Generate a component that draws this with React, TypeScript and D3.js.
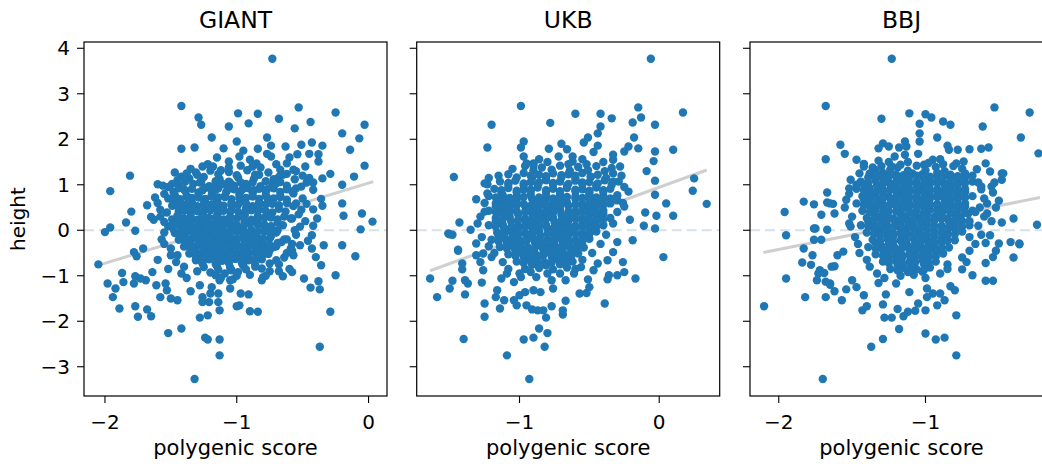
import { useEffect, useRef } from "react";
import * as d3 from "d3";

// panel titles, ticks and axis ranges
const titles = ["GIANT", "UKB", "BBJ"];
const xTicks = [[-2, -1, 0], [-1, 0], [-2, -1]];
const yTicks = [-3, -2, -1, 0, 1, 2, 3, 4];
const xDomains = [[-2.159, 0.14], [-1.736, 0.433], [-2.196, -0.131]];
const yDomain = [-3.643, 4.138];

// fitted regression lines, endpoints [score, height]
const fitGiant = [[-2.04, -0.76], [0.036, 1.07]];
const fitUkb = [[-1.64, -0.89], [0.34, 1.325]];
const fitBbj = [[-2.105, -0.49], [-0.22, 0.72]];

// [polygenic score, height]
const giantPts = [
  [-1.2, 1.31], [-1.06, 1.28], [-0.92, 1.32], [-0.76, 1.27],
  [-1.36, 1.14], [-1.25, 1.17], [-1.13, 1.12], [-0.99, 1.16], [-0.87, 1.13], [-0.68, 1.17], [-0.56, 1.12],
  [-1.44, 0.99], [-1.33, 1.02], [-1.21, 0.97], [-1.1, 1.01], [-1.02, 0.98], [-0.93, 1.02], [-0.82, 0.97], [-0.73, 1.0], [-0.62, 0.98],
  [-1.48, 0.84], [-1.39, 0.86], [-1.29, 0.83], [-1.19, 0.87], [-1.08, 0.84], [-0.97, 0.86], [-0.88, 0.83], [-0.78, 0.87], [-0.67, 0.84], [-0.58, 0.86],
  [-1.52, 0.7], [-1.43, 0.68], [-1.34, 0.71], [-1.24, 0.69], [-1.14, 0.72], [-1.04, 0.68], [-0.93, 0.71], [-0.83, 0.69], [-0.72, 0.7], [-0.62, 0.67],
  [-1.49, 0.54], [-1.39, 0.56], [-1.3, 0.53], [-1.19, 0.57], [-1.1, 0.54], [-0.99, 0.56], [-0.88, 0.53], [-0.78, 0.57], [-0.68, 0.55], [-0.57, 0.53],
  [-1.53, 0.39], [-1.44, 0.41], [-1.35, 0.38], [-1.25, 0.42], [-1.14, 0.39], [-1.05, 0.41], [-0.94, 0.38], [-0.84, 0.42], [-0.73, 0.39], [-0.63, 0.41],
  [-1.49, 0.24], [-1.4, 0.26], [-1.3, 0.23], [-1.21, 0.27], [-1.1, 0.24], [-1.0, 0.26], [-0.89, 0.23], [-0.79, 0.27], [-0.69, 0.24], [-0.59, 0.26],
  [-1.52, 0.09], [-1.43, 0.11], [-1.34, 0.08], [-1.25, 0.12], [-1.15, 0.09], [-1.05, 0.11], [-0.95, 0.08], [-0.84, 0.12], [-0.74, 0.09], [-0.65, 0.11],
  [-1.47, -0.06], [-1.38, -0.04], [-1.29, -0.07], [-1.2, -0.03], [-1.1, -0.06], [-1.0, -0.04], [-0.9, -0.07], [-0.79, -0.03], [-0.7, -0.05],
  [-1.44, -0.21], [-1.34, -0.19], [-1.24, -0.22], [-1.15, -0.18], [-1.05, -0.21], [-0.95, -0.19], [-0.85, -0.22], [-0.75, -0.18], [-0.64, -0.2],
  [-1.4, -0.36], [-1.3, -0.34], [-1.2, -0.37], [-1.1, -0.33], [-1.0, -0.36], [-0.9, -0.34], [-0.8, -0.37], [-0.7, -0.35],
  [-1.36, -0.51], [-1.26, -0.49], [-1.16, -0.52], [-1.06, -0.48], [-0.96, -0.51], [-0.86, -0.49], [-0.76, -0.52],
  [-1.31, -0.66], [-1.21, -0.64], [-1.11, -0.67], [-1.01, -0.63], [-0.91, -0.66], [-0.81, -0.64],
  [-1.25, -0.81], [-1.15, -0.79], [-1.05, -0.82], [-0.95, -0.78], [-0.86, -0.8],
  [-1.2, -0.93], [-1.09, -0.95], [-0.99, -0.92],
  [-0.73, 3.77], [-1.42, 2.73], [-1.29, 2.48], [-1.27, 2.32], [-1.19, 2.04], [-1.42, 1.79], [-1.32, 1.82], [-0.99, 2.57],
  [-0.84, 2.56], [-0.91, 2.35], [-1.06, 2.28], [-1.0, 1.95], [-0.68, 2.45], [-0.53, 2.7], [-0.56, 2.24], [-0.44, 2.38],
  [-0.25, 2.59], [-0.2, 2.13], [-0.03, 2.32], [-0.07, 2.02], [-0.14, 1.77], [-0.03, 1.42], [-0.11, 1.18], [-0.29, 1.24],
  [-0.35, 1.14], [-0.35, 1.86], [-0.43, 1.93], [-0.51, 1.88], [-0.38, 1.67], [-0.38, 1.51], [-0.45, 1.68], [-0.54, 1.67],
  [-0.63, 1.84], [-0.77, 2.04], [-0.74, 1.86], [-0.84, 1.79], [-0.77, 1.68], [-0.74, 1.62], [-0.98, 1.62], [-0.9, 1.55],
  [-0.85, 1.47], [-1.06, 1.51], [-1.06, 1.38], [-1.26, 1.4], [-1.31, 1.27], [-1.47, 1.27], [-1.42, 1.18], [-1.81, 1.2],
  [-1.96, 0.86], [-1.6, 1.01], [-1.56, 0.98], [-1.49, 1.02], [-1.8, 0.41], [-1.84, 0.17], [-1.96, 0.06], [-1.65, 0.29],
  [-1.63, 0.23], [-1.55, 0.18], [-1.77, -0.01], [-2.0, -0.04], [-0.2, 1.0], [-0.2, 0.59], [-0.19, 0.32], [-0.05, 0.37],
  [0.03, 0.19], [-0.06, 0.02], [-0.42, 0.89], [-0.42, 1.05], [-0.36, 0.69], [-0.35, 0.54], [-0.42, 0.46], [-0.51, 0.45],
  [-0.39, 0.26], [-0.42, 0.1], [-0.58, 0.26], [-0.52, 0.08], [-0.55, 0.59], [-0.51, 0.96], [-0.57, 0.81], [-0.48, 1.4],
  [-0.57, 1.33], [-0.62, 1.47], [-0.67, 1.33],
  [-1.35, 1.35], [-1.22, 1.45], [-1.15, 1.6], [-0.95, 1.75], [-1.1, 1.8], [-0.6, 1.6], [-0.55, 1.3], [-0.45, 1.15],
  [-0.88, 1.4], [-0.7, 1.45],
  [-2.05, -0.75], [-1.98, -1.17], [-1.92, -1.28], [-1.94, -1.47], [-1.89, -1.72], [-1.87, -0.94], [-1.86, -1.14], [-1.78, -1.17],
  [-1.77, -1.01], [-1.77, -1.67], [-1.75, -1.9], [-1.68, -1.74], [-1.65, -1.89], [-1.69, -1.1], [-1.73, -1.06], [-1.71, -0.4],
  [-1.78, -0.48], [-1.76, -0.57], [-1.64, -0.92], [-1.61, -1.21], [-1.58, -1.47], [-1.54, -1.17], [-1.53, -1.32], [-1.5, -1.5],
  [-1.45, -1.54], [-1.52, -2.26], [-1.42, -2.16], [-1.35, -1.34], [-1.28, -1.92], [-1.22, -1.87], [-1.24, -2.36], [-1.22, -2.4],
  [-1.13, -2.4], [-1.13, -2.75], [-1.32, -3.27], [-1.13, -1.76], [-1.14, -1.58], [-1.21, -1.58], [-1.26, -1.58], [-1.26, -1.47],
  [-1.2, -1.39], [-1.28, -1.21], [-1.19, -1.25], [-1.13, -1.1], [-1.16, -0.99], [-1.14, -1.39], [-1.05, -1.1], [-1.03, -1.08],
  [-1.05, -1.28], [-0.97, -1.39], [-1.0, -1.67], [-0.98, -1.65], [-0.91, -1.41], [-0.9, -1.78], [-0.84, -1.79], [-0.81, -1.1],
  [-0.8, -1.03], [-0.81, -0.84], [-0.65, -1.01], [-0.58, -0.92], [-0.49, -1.06], [-0.44, -1.26], [-0.38, -1.12], [-0.37, -1.3],
  [-0.29, -1.79], [-0.37, -2.56], [-0.25, -0.99], [-0.2, -0.33], [-0.1, -0.57], [-0.36, -0.77], [-0.4, -0.59], [-0.43, -0.4],
  [-0.46, -0.23], [-0.43, -0.11], [-0.34, -0.33], [-0.52, -0.33], [-0.59, -0.4], [-0.57, -0.55], [-0.66, -0.26], [-0.72, -0.37],
  [-0.7, -0.66], [-0.75, -0.73], [-0.62, -0.2], [-0.58, -0.45], [-0.64, -0.6], [-0.55, -0.1], [-0.68, -0.75], [-0.6, -0.85],
  [-0.75, -0.9], [-1.55, -0.3], [-1.5, -0.55], [-1.46, -0.7], [-1.52, -0.85], [-1.42, -0.95], [-1.38, -1.05], [-1.6, -0.65],
  [-1.57, -0.2], [-1.68, 0.55], [-1.62, 0.72], [-1.58, 0.45],
];

// points packed in the dense middle of each cloud
const giantDense = [
  [-1.3, 1.22], [-1.14, 1.23], [-1.0, 1.21], [-0.83, 1.22], [-0.62, 1.24],
  [-1.39, 1.07], [-1.27, 1.06], [-1.16, 1.08], [-1.06, 1.07], [-0.97, 1.05], [-0.78, 1.08], [-0.67, 1.06],
  [-1.44, 0.92], [-1.34, 0.91], [-1.24, 0.93], [-1.14, 0.92], [-1.02, 0.9], [-0.92, 0.93], [-0.83, 0.91], [-0.72, 0.92], [-0.62, 0.9],
  [-1.47, 0.77], [-1.38, 0.76], [-1.29, 0.78], [-1.19, 0.77], [-1.09, 0.75], [-0.98, 0.78], [-0.88, 0.76], [-0.78, 0.77], [-0.67, 0.76],
  [-1.48, 0.62], [-1.34, 0.61], [-1.24, 0.63], [-1.15, 0.62], [-1.04, 0.6], [-0.94, 0.63], [-0.83, 0.61], [-0.73, 0.62], [-0.62, 0.6],
  [-1.44, 0.47], [-1.35, 0.46], [-1.24, 0.48], [-1.15, 0.47], [-1.04, 0.45], [-0.93, 0.48], [-0.83, 0.46], [-0.68, 0.47],
  [-1.45, 0.32], [-1.35, 0.31], [-1.26, 0.33], [-1.15, 0.32], [-1.05, 0.3], [-0.94, 0.33], [-0.84, 0.31], [-0.74, 0.32], [-0.64, 0.3],
  [-1.47, 0.17], [-1.35, 0.16], [-1.25, 0.18], [-1.15, 0.17], [-1.05, 0.15], [-0.94, 0.18], [-0.84, 0.16], [-0.69, 0.17],
  [-1.48, 0.02], [-1.38, 0.01], [-1.29, 0.03], [-1.2, 0.02], [-1.1, 0.0], [-1.0, 0.03], [-0.89, 0.01], [-0.79, 0.02], [-0.69, 0.0],
  [-1.42, -0.13], [-1.33, -0.14], [-1.24, -0.12], [-1.15, -0.13], [-1.05, -0.15], [-0.95, -0.12], [-0.85, -0.14], [-0.74, -0.13],
  [-1.39, -0.28], [-1.29, -0.29], [-1.19, -0.27], [-1.1, -0.28], [-1.0, -0.3], [-0.9, -0.27], [-0.8, -0.29], [-0.69, -0.28],
  [-1.35, -0.43], [-1.25, -0.44], [-1.15, -0.42], [-1.05, -0.43], [-0.95, -0.45], [-0.85, -0.42], [-0.75, -0.44],
  [-1.31, -0.58], [-1.21, -0.59], [-1.11, -0.57], [-1.01, -0.58], [-0.91, -0.6], [-0.81, -0.57],
  [-1.26, -0.73], [-1.16, -0.74], [-1.06, -0.72], [-0.96, -0.73], [-0.86, -0.75],
  [-1.14, -0.87], [-1.04, -0.88], [-0.93, -0.86],
  [-1.28, 1.05], [-1.16, 1.03], [-1.05, 1.04], [-0.88, 1.05], [-0.7, 1.03],
  [-1.4, 0.9], [-1.26, 0.88], [-1.16, 0.89], [-1.06, 0.91], [-0.96, 0.89], [-0.87, 0.88], [-0.77, 0.9],
  [-1.38, 0.73], [-1.29, 0.72], [-1.19, 0.74], [-1.09, 0.73], [-0.98, 0.71], [-0.88, 0.74], [-0.77, 0.72], [-0.67, 0.73],
  [-1.44, 0.58], [-1.34, 0.57], [-1.25, 0.59], [-1.14, 0.58], [-1.04, 0.56], [-0.93, 0.59], [-0.83, 0.57], [-0.73, 0.58],
  [-1.4, 0.43], [-1.3, 0.42], [-1.2, 0.44], [-1.1, 0.43], [-0.99, 0.41], [-0.89, 0.44], [-0.78, 0.42],
  [-1.44, 0.28], [-1.35, 0.27], [-1.25, 0.29], [-1.16, 0.28], [-1.05, 0.26], [-0.95, 0.29], [-0.84, 0.27], [-0.74, 0.28],
  [-1.38, 0.13], [-1.29, 0.12], [-1.2, 0.14], [-1.1, 0.13], [-1.0, 0.11], [-0.9, 0.14], [-0.79, 0.12],
  [-1.42, -0.02], [-1.33, -0.03], [-1.24, -0.01], [-1.15, -0.02], [-1.05, -0.04], [-0.95, -0.01], [-0.84, -0.03], [-0.75, -0.02],
  [-1.39, -0.17], [-1.29, -0.18], [-1.2, -0.16], [-1.1, -0.17], [-1.0, -0.19], [-0.9, -0.16], [-0.8, -0.18],
  [-1.35, -0.32], [-1.25, -0.33], [-1.15, -0.31], [-1.05, -0.32], [-0.95, -0.34], [-0.85, -0.31], [-0.75, -0.33],
  [-1.31, -0.47], [-1.21, -0.48], [-1.11, -0.46], [-1.01, -0.47], [-0.91, -0.49], [-0.81, -0.46],
  [-1.26, -0.62], [-1.16, -0.63], [-1.06, -0.61], [-0.96, -0.62], [-0.86, -0.64],
  // ragged rim around the core
  [-1.38, 1.25], [-1.18, 1.4], [-1.12, 1.32], [-0.97, 1.42], [-0.82, 1.38], [-0.65, 1.22], [-0.5, 1.2], [-0.47, 1.05],
  [-0.55, 0.92], [-0.5, 0.7], [-0.47, 0.58], [-0.53, 0.35], [-0.48, 0.2], [-0.56, 0.0], [-0.58, -0.3], [-0.62, -0.5],
  [-0.68, -0.9], [-0.78, -1.0], [-0.9, -0.98], [-1.3, -0.9], [-1.4, -0.8], [-1.45, -0.55], [-1.5, -0.4], [-1.55, -0.05],
  [-1.58, 0.3], [-1.6, 0.6], [-1.55, 0.8], [-1.52, 0.95], [-1.45, 1.1], [-1.0, -1.0], [-1.12, -1.05], [-0.72, 1.12],
  [-0.86, 1.22],
];

const ukbPts = [
  [-0.96, 1.41], [-0.84, 1.38], [-0.71, 1.42], [-0.58, 1.39], [-0.45, 1.41], [-0.34, 1.37],
  [-1.08, 1.23], [-0.97, 1.26], [-0.86, 1.22], [-0.76, 1.25], [-0.65, 1.23], [-0.55, 1.26], [-0.44, 1.22], [-0.33, 1.25],
  [-1.14, 1.07], [-1.03, 1.09], [-0.92, 1.06], [-0.81, 1.1], [-0.71, 1.07], [-0.6, 1.09], [-0.5, 1.06], [-0.39, 1.1], [-0.29, 1.07],
  [-1.18, 0.91], [-1.08, 0.93], [-0.97, 0.9], [-0.87, 0.94], [-0.76, 0.91], [-0.66, 0.93], [-0.55, 0.9], [-0.45, 0.94], [-0.35, 0.91],
  [-1.22, 0.75], [-1.12, 0.77], [-1.02, 0.74], [-0.92, 0.78], [-0.81, 0.75], [-0.71, 0.77], [-0.6, 0.74], [-0.5, 0.78], [-0.4, 0.75], [-0.3, 0.77],
  [-1.17, 0.59], [-1.07, 0.61], [-0.97, 0.58], [-0.86, 0.62], [-0.76, 0.59], [-0.66, 0.61], [-0.55, 0.58], [-0.45, 0.62], [-0.35, 0.59],
  [-1.22, 0.43], [-1.12, 0.45], [-1.02, 0.42], [-0.91, 0.46], [-0.81, 0.43], [-0.71, 0.45], [-0.6, 0.42], [-0.5, 0.46], [-0.4, 0.43],
  [-1.17, 0.27], [-1.07, 0.29], [-0.96, 0.26], [-0.86, 0.3], [-0.76, 0.27], [-0.65, 0.29], [-0.55, 0.26], [-0.45, 0.3], [-0.35, 0.27],
  [-1.22, 0.11], [-1.12, 0.13], [-1.01, 0.1], [-0.91, 0.14], [-0.81, 0.11], [-0.7, 0.13], [-0.6, 0.1], [-0.5, 0.14], [-0.4, 0.11],
  [-1.16, -0.05], [-1.06, -0.03], [-0.96, -0.06], [-0.86, -0.02], [-0.75, -0.05], [-0.65, -0.03], [-0.55, -0.06], [-0.45, -0.03],
  [-1.2, -0.21], [-1.1, -0.19], [-1.0, -0.22], [-0.9, -0.18], [-0.8, -0.21], [-0.7, -0.19], [-0.6, -0.22], [-0.5, -0.19],
  [-1.14, -0.37], [-1.04, -0.35], [-0.94, -0.38], [-0.84, -0.34], [-0.74, -0.37], [-0.64, -0.35], [-0.54, -0.38],
  [-1.08, -0.53], [-0.98, -0.51], [-0.88, -0.54], [-0.78, -0.5], [-0.68, -0.53], [-0.58, -0.51],
  [-1.02, -0.69], [-0.92, -0.67], [-0.82, -0.7], [-0.72, -0.66], [-0.62, -0.69],
  [-0.96, -0.85], [-0.86, -0.83], [-0.76, -0.86], [-0.66, -0.82],
  [-0.06, 3.77], [-0.99, 2.73], [-1.2, 2.32], [-1.23, 1.82], [-1.47, 1.17], [-0.78, 2.36], [-0.6, 2.56], [-0.42, 2.56],
  [-0.34, 2.46], [-0.42, 2.28], [-0.44, 2.13], [-0.51, 2.04], [-0.54, 1.93], [-0.44, 1.86], [-0.15, 2.7], [-0.13, 2.48],
  [-0.19, 2.37], [-0.03, 2.32], [-0.18, 2.04], [0.17, 2.59], [0.1, 1.77], [-0.03, 1.73], [-0.04, 1.52], [-0.09, 1.3],
  [-0.03, 1.09], [-0.03, 0.78], [0.25, 1.14], [0.24, 0.87], [0.34, 0.58], [0.05, 0.59], [0.1, 0.32], [-0.02, 0.32],
  [-0.03, 0.04], [-0.1, 0.39], [-0.11, 0.1], [-0.15, 1.8], [-0.22, 1.84], [-0.25, 1.73], [-0.28, 1.4], [-0.33, 1.55],
  [-0.33, 1.07], [-0.22, 0.85], [-0.25, 0.52], [-0.21, 0.23], [-0.97, 1.95], [-0.99, 1.82], [-0.97, 1.62], [-0.95, 1.47],
  [-0.79, 1.79], [-0.7, 1.9], [-0.66, 1.78], [-0.86, 1.56], [-0.9, 1.47], [-0.62, 1.62], [-0.62, 1.51], [-0.55, 1.56],
  [-0.33, 1.66], [-1.23, 1.01], [-1.23, 0.81], [-1.31, 0.68], [-1.14, 0.68], [-1.25, 0.41], [-1.43, 0.17], [-1.35, 0.01],
  [-1.51, -0.07], [-1.48, -0.1], [-0.72, 1.62], [-0.47, 1.72], [-1.25, 1.03], [-1.44, -0.43],
  [-1.64, -1.06], [-1.59, -1.47], [-1.5, -1.28], [-1.48, -1.11], [-1.44, -0.45], [-1.5, -0.09], [-1.41, -0.73], [-1.41, -0.86],
  [-1.39, -1.1], [-1.37, -1.17], [-1.39, -1.41], [-1.4, -2.39], [-1.31, -0.29], [-1.31, -0.55], [-1.26, -0.51], [-1.28, -0.7],
  [-1.26, -0.88], [-1.27, -1.15], [-1.25, -1.61], [-1.25, -1.9], [-1.2, -0.59], [-1.17, -1.47], [-1.14, -1.72], [-1.11, -1.54],
  [-1.16, -1.32], [-1.13, -1.06], [-1.09, -2.75], [-0.93, -3.27], [-0.97, -2.4], [-0.9, -2.36], [-0.86, -2.16], [-0.8, -2.26],
  [-0.82, -2.56], [-0.95, -1.65], [-0.91, -1.74], [-0.87, -1.76], [-0.83, -1.76], [-0.81, -1.92], [-0.77, -1.67], [-1.02, -1.65],
  [-1.04, -1.54], [-1.0, -1.43], [-0.96, -1.36], [-0.9, -1.32], [-0.85, -1.36], [-0.76, -1.28], [-0.69, -1.85], [-0.69, -1.76],
  [-0.67, -1.55], [-0.57, -1.39], [-0.52, -1.38], [-0.5, -1.25], [-0.51, -1.08], [-0.39, -1.61], [-0.37, -1.08], [-0.36, -0.99],
  [-0.3, -0.99], [-0.25, -0.92], [-0.17, -1.06], [-0.26, -0.7], [0.03, -0.59], [-0.19, -0.22], [-0.3, -0.26], [-0.33, -0.48],
  [-0.37, -0.66], [-0.44, -0.73], [-0.47, -0.88], [-0.56, -0.81], [-0.61, -0.95], [-0.67, -1.1], [-0.71, -0.95], [-0.77, -1.1],
  [-0.8, -0.95], [-0.88, -1.03], [-0.92, -0.92], [-0.99, -1.03], [-1.04, -1.14], [-1.09, -0.95],
];

const ukbDense = [
  [-0.9, 1.32], [-0.77, 1.33], [-0.64, 1.31], [-0.51, 1.32], [-0.39, 1.3],
  [-1.02, 1.16], [-0.91, 1.15], [-0.81, 1.17], [-0.7, 1.16], [-0.6, 1.14], [-0.49, 1.17], [-0.38, 1.15],
  [-1.08, 1.0], [-0.97, 0.99], [-0.87, 1.01], [-0.76, 1.0], [-0.66, 0.98], [-0.55, 1.01], [-0.45, 0.99], [-0.34, 1.0],
  [-1.13, 0.84], [-1.02, 0.83], [-0.92, 0.85], [-0.81, 0.84], [-0.71, 0.82], [-0.6, 0.85], [-0.5, 0.83], [-0.4, 0.84],
  [-1.12, 0.68], [-1.02, 0.67], [-0.91, 0.69], [-0.81, 0.68], [-0.71, 0.66], [-0.6, 0.69], [-0.5, 0.67], [-0.4, 0.68], [-0.3, 0.66],
  [-1.17, 0.52], [-1.07, 0.51], [-0.96, 0.53], [-0.86, 0.52], [-0.76, 0.5], [-0.65, 0.53], [-0.55, 0.51], [-0.45, 0.52],
  [-1.12, 0.36], [-1.01, 0.35], [-0.91, 0.37], [-0.81, 0.36], [-0.7, 0.34], [-0.6, 0.37], [-0.5, 0.35], [-0.4, 0.36],
  [-1.17, 0.2], [-1.06, 0.19], [-0.96, 0.21], [-0.86, 0.2], [-0.75, 0.18], [-0.65, 0.21], [-0.55, 0.19], [-0.45, 0.2],
  [-1.11, 0.04], [-1.01, 0.03], [-0.91, 0.05], [-0.8, 0.04], [-0.7, 0.02], [-0.6, 0.05], [-0.5, 0.03],
  [-1.15, -0.12], [-1.05, -0.13], [-0.95, -0.11], [-0.85, -0.12], [-0.75, -0.14], [-0.65, -0.11], [-0.55, -0.13],
  [-1.09, -0.28], [-0.99, -0.29], [-0.89, -0.27], [-0.79, -0.28], [-0.69, -0.3], [-0.59, -0.27],
  [-1.03, -0.44], [-0.93, -0.45], [-0.83, -0.43], [-0.73, -0.44], [-0.63, -0.46],
  [-0.97, -0.6], [-0.87, -0.61], [-0.77, -0.59], [-0.67, -0.6],
  [-0.91, -0.76], [-0.81, -0.77], [-0.71, -0.75],
  [-0.92, 1.2], [-0.81, 1.19], [-0.7, 1.21], [-0.6, 1.2], [-0.49, 1.18],
  [-1.08, 1.04], [-0.97, 1.03], [-0.86, 1.05], [-0.76, 1.04], [-0.65, 1.02], [-0.55, 1.05], [-0.44, 1.03],
  [-1.13, 0.88], [-1.02, 0.87], [-0.92, 0.89], [-0.81, 0.88], [-0.71, 0.86], [-0.6, 0.89], [-0.5, 0.87], [-0.4, 0.88],
  [-1.17, 0.72], [-1.07, 0.71], [-0.97, 0.73], [-0.86, 0.72], [-0.76, 0.7], [-0.66, 0.73], [-0.55, 0.71], [-0.45, 0.72], [-0.35, 0.7],
  [-1.12, 0.56], [-1.02, 0.55], [-0.91, 0.57], [-0.81, 0.56], [-0.71, 0.54], [-0.6, 0.57], [-0.5, 0.55], [-0.4, 0.56],
  [-1.17, 0.4], [-1.07, 0.39], [-0.96, 0.41], [-0.86, 0.4], [-0.76, 0.38], [-0.65, 0.41], [-0.55, 0.39], [-0.45, 0.4],
  [-1.12, 0.24], [-1.01, 0.23], [-0.91, 0.25], [-0.81, 0.24], [-0.7, 0.22], [-0.6, 0.25], [-0.5, 0.23], [-0.4, 0.24],
  [-1.17, 0.08], [-1.06, 0.07], [-0.96, 0.09], [-0.86, 0.08], [-0.75, 0.06], [-0.65, 0.09], [-0.55, 0.07], [-0.45, 0.08],
  [-1.11, -0.08], [-1.01, -0.09], [-0.91, -0.07], [-0.8, -0.08], [-0.7, -0.1], [-0.6, -0.07], [-0.5, -0.09],
  [-1.15, -0.24], [-1.05, -0.25], [-0.95, -0.23], [-0.85, -0.24], [-0.75, -0.26], [-0.65, -0.23], [-0.55, -0.25],
  [-1.09, -0.4], [-0.99, -0.41], [-0.89, -0.39], [-0.79, -0.4], [-0.69, -0.42], [-0.59, -0.39],
  [-1.03, -0.56], [-0.93, -0.57], [-0.83, -0.55], [-0.73, -0.56], [-0.63, -0.58],
  [-0.97, -0.72], [-0.87, -0.73], [-0.77, -0.71], [-0.67, -0.72],
  // ragged rim around the core
  [-1.25, 0.6], [-1.28, 0.3], [-1.3, 0.15], [-1.27, -0.15], [-1.22, -0.35], [-1.18, -0.5], [-1.12, -0.7], [-1.08, -0.85],
  [-1.0, -0.95], [-0.6, -0.85], [-0.55, -0.65], [-0.48, -0.5], [-0.42, -0.3], [-0.38, -0.1], [-0.33, 0.15], [-0.3, 0.4],
  [-0.26, 0.6], [-0.25, 0.95], [-0.27, 1.2], [-0.4, 1.5], [-0.52, 1.45], [-0.65, 1.45], [-0.8, 1.5], [-0.9, 1.42],
  [-1.05, 1.35], [-1.15, 1.2], [-1.22, 1.15],
];

const bbjPts = [
  [-1.3, 1.41], [-1.19, 1.38], [-1.06, 1.42], [-0.93, 1.39], [-0.81, 1.41],
  [-1.38, 1.23], [-1.29, 1.26], [-1.2, 1.22], [-1.11, 1.25], [-1.02, 1.23], [-0.92, 1.26], [-0.83, 1.22], [-0.73, 1.25],
  [-1.44, 1.07], [-1.34, 1.09], [-1.25, 1.06], [-1.16, 1.1], [-1.06, 1.07], [-0.97, 1.09], [-0.88, 1.06], [-0.78, 1.1], [-0.68, 1.07],
  [-1.47, 0.91], [-1.38, 0.93], [-1.29, 0.9], [-1.2, 0.94], [-1.11, 0.91], [-1.02, 0.93], [-0.92, 0.9], [-0.83, 0.94], [-0.73, 0.91],
  [-1.43, 0.75], [-1.34, 0.77], [-1.25, 0.74], [-1.16, 0.78], [-1.06, 0.75], [-0.97, 0.77], [-0.88, 0.74], [-0.78, 0.78], [-0.68, 0.75],
  [-1.47, 0.59], [-1.38, 0.61], [-1.29, 0.58], [-1.2, 0.62], [-1.11, 0.59], [-1.02, 0.61], [-0.92, 0.58], [-0.83, 0.62], [-0.73, 0.59],
  [-1.43, 0.43], [-1.34, 0.45], [-1.25, 0.42], [-1.16, 0.46], [-1.06, 0.43], [-0.97, 0.45], [-0.88, 0.42], [-0.78, 0.46], [-0.68, 0.43],
  [-1.4, 0.27], [-1.31, 0.29], [-1.22, 0.26], [-1.13, 0.3], [-1.04, 0.27], [-0.94, 0.29], [-0.85, 0.26], [-0.76, 0.3],
  [-1.44, 0.11], [-1.35, 0.13], [-1.26, 0.1], [-1.17, 0.14], [-1.08, 0.11], [-0.99, 0.13], [-0.89, 0.1], [-0.8, 0.14], [-0.7, 0.11],
  [-1.4, -0.05], [-1.31, -0.03], [-1.22, -0.06], [-1.13, -0.02], [-1.04, -0.05], [-0.94, -0.03], [-0.85, -0.06], [-0.75, -0.03],
  [-1.36, -0.21], [-1.26, -0.19], [-1.17, -0.22], [-1.08, -0.18], [-0.99, -0.21], [-0.89, -0.19], [-0.8, -0.22],
  [-1.39, -0.37], [-1.3, -0.35], [-1.21, -0.38], [-1.12, -0.34], [-1.03, -0.37], [-0.94, -0.35], [-0.84, -0.38],
  [-1.34, -0.53], [-1.25, -0.51], [-1.16, -0.54], [-1.07, -0.5], [-0.98, -0.53], [-0.88, -0.51],
  [-1.29, -0.69], [-1.2, -0.67], [-1.11, -0.7], [-1.02, -0.66], [-0.93, -0.69],
  [-1.24, -0.85], [-1.15, -0.83], [-1.06, -0.86], [-0.97, -0.82],
  [-1.17, -1.0], [-1.08, -0.98],
  [-1.23, 3.77], [-1.68, 2.73], [-1.3, 2.45], [-1.11, 2.57], [-1.0, 2.55], [-0.96, 2.48], [-1.04, 2.34], [-0.88, 2.39],
  [-0.83, 2.32], [-0.53, 2.7], [-0.29, 2.59], [-0.35, 2.04], [-0.23, 1.69], [-0.61, 2.28], [-1.04, 2.13], [-1.04, 1.95],
  [-0.92, 2.04], [-0.85, 1.86], [-0.84, 1.77], [-0.78, 1.77], [-0.7, 1.78], [-0.62, 1.79], [-0.57, 1.82], [-1.58, 1.88],
  [-1.55, 1.68], [-1.68, 1.56], [-1.47, 1.55], [-1.42, 1.46], [-1.32, 1.8], [-1.29, 1.91], [-1.25, 1.84], [-1.18, 1.82],
  [-1.14, 1.95], [-1.13, 1.84], [-1.21, 1.62], [-1.14, 1.66], [-1.05, 1.68], [-1.32, 1.53], [-1.38, 1.25], [-1.29, 1.25],
  [-1.23, 1.4], [-1.17, 1.44], [-1.09, 1.25], [-1.01, 1.44], [-0.95, 1.55], [-0.9, 1.56], [-0.79, 1.47], [-0.74, 1.51],
  [-0.65, 1.34], [-0.59, 1.47], [-0.56, 1.29], [-0.48, 1.25], [-0.48, 1.11], [-0.62, 0.96], [-0.55, 0.96], [-0.54, 0.83],
  [-0.58, 0.59], [-0.58, 0.37], [-0.48, 0.17], [-0.4, 0.26], [-0.24, 0.12], [-1.83, 0.63], [-1.76, 0.57], [-1.96, 0.4],
  [-1.67, 0.61], [-1.63, 0.58], [-1.67, 0.83], [-1.71, 0.34], [-1.62, 0.37], [-1.75, 0.04], [-1.67, 0.01], [-1.52, 0.92],
  [-1.51, 1.11], [-1.54, 0.67], [-1.47, 1.0], [-1.41, 0.81], [-0.47, 1.25], [-0.53, 1.05],
  [-2.1, -1.67], [-1.95, -1.06], [-1.95, -0.11], [-1.84, -0.71], [-1.83, -0.4], [-1.77, -0.55], [-1.74, -1.1], [-1.82, -1.47],
  [-1.7, -3.27], [-1.68, -1.47], [-1.72, -0.88], [-1.69, -0.94], [-1.65, -1.17], [-1.62, -1.34], [-1.62, -0.79], [-1.6, -0.55],
  [-1.57, -1.54], [-1.54, -1.3], [-1.5, -1.1], [-1.47, -1.25], [-1.43, -1.76], [-1.4, -1.67], [-1.42, -1.43], [-1.37, -2.56],
  [-1.29, -2.39], [-1.29, -1.63], [-1.28, -1.92], [-1.23, -1.92], [-1.18, -2.17], [-1.19, -1.73], [-1.15, -1.89], [-1.12, -1.79],
  [-1.07, -1.77], [-1.05, -1.61], [-1.0, -1.76], [-1.0, -2.27], [-0.93, -2.4], [-0.87, -2.36], [-0.79, -1.87], [-0.79, -2.75],
  [-0.99, -1.47], [-0.92, -1.65], [-0.87, -1.54], [-0.95, -1.39], [-0.9, -1.39], [-0.99, -1.28], [-0.83, -1.23], [-0.8, -1.32],
  [-0.75, -0.86], [-0.68, -0.99], [-0.72, -0.7], [-0.59, -0.72], [-0.59, -1.11], [-0.54, -1.11], [-0.54, -0.59], [-0.52, -0.45],
  [-0.5, -0.29], [-0.59, -0.28], [-0.42, -0.26], [-0.36, -0.31], [-0.4, -0.6], [-0.56, -0.11], [-0.85, -0.75], [-1.11, -1.36],
  [-1.2, -1.17], [-1.27, -1.41], [-1.32, -1.16], [-1.78, -0.76], [-1.76, -0.21], [-1.76, 0.04], [-1.71, -0.21], [-1.65, 0.59],
  [-1.65, -1.2], [-1.73, -0.95], [-1.68, -1.13], [-1.64, -0.8], [-1.56, -0.47], [-1.51, 0.08], [-0.36, -0.29],
];

const bbjDense = [
  [-1.34, 1.32], [-1.24, 1.33], [-1.12, 1.31], [-1.0, 1.32], [-0.87, 1.3],
  [-1.39, 1.16], [-1.29, 1.15], [-1.2, 1.17], [-1.11, 1.16], [-1.01, 1.14], [-0.92, 1.17], [-0.83, 1.15], [-0.73, 1.16],
  [-1.42, 1.0], [-1.33, 0.99], [-1.24, 1.01], [-1.15, 1.0], [-1.06, 0.98], [-0.97, 1.01], [-0.87, 0.99], [-0.78, 1.0],
  [-1.38, 0.84], [-1.29, 0.83], [-1.2, 0.85], [-1.11, 0.84], [-1.01, 0.82], [-0.92, 0.85], [-0.83, 0.83], [-0.73, 0.84],
  [-1.42, 0.68], [-1.33, 0.67], [-1.24, 0.69], [-1.15, 0.68], [-1.06, 0.66], [-0.97, 0.69], [-0.87, 0.67], [-0.78, 0.68],
  [-1.38, 0.52], [-1.29, 0.51], [-1.2, 0.53], [-1.11, 0.52], [-1.01, 0.5], [-0.92, 0.53], [-0.83, 0.51], [-0.73, 0.52],
  [-1.35, 0.36], [-1.26, 0.35], [-1.17, 0.37], [-1.08, 0.36], [-0.99, 0.34], [-0.89, 0.37], [-0.8, 0.35], [-0.71, 0.36],
  [-1.39, 0.2], [-1.3, 0.19], [-1.21, 0.21], [-1.12, 0.2], [-1.03, 0.18], [-0.94, 0.21], [-0.84, 0.19], [-0.75, 0.2],
  [-1.35, 0.04], [-1.26, 0.03], [-1.17, 0.05], [-1.08, 0.04], [-0.99, 0.02], [-0.89, 0.05], [-0.8, 0.03],
  [-1.31, -0.12], [-1.22, -0.13], [-1.13, -0.11], [-1.03, -0.12], [-0.94, -0.14], [-0.85, -0.11],
  [-1.34, -0.28], [-1.25, -0.29], [-1.16, -0.27], [-1.07, -0.28], [-0.98, -0.3], [-0.89, -0.27],
  [-1.29, -0.44], [-1.2, -0.45], [-1.11, -0.43], [-1.02, -0.44], [-0.93, -0.46],
  [-1.25, -0.6], [-1.16, -0.61], [-1.07, -0.59], [-0.98, -0.6],
  [-1.19, -0.76], [-1.1, -0.77], [-1.01, -0.75],
  [-1.12, -0.92], [-1.02, -0.91],
  [-1.34, 1.2], [-1.25, 1.19], [-1.15, 1.21], [-1.06, 1.2], [-0.97, 1.18], [-0.87, 1.21], [-0.78, 1.19],
  [-1.39, 1.04], [-1.29, 1.03], [-1.2, 1.05], [-1.11, 1.04], [-1.01, 1.02], [-0.92, 1.05], [-0.83, 1.03], [-0.73, 1.04],
  [-1.42, 0.88], [-1.33, 0.87], [-1.24, 0.89], [-1.15, 0.88], [-1.06, 0.86], [-0.97, 0.89], [-0.87, 0.87], [-0.78, 0.88],
  [-1.38, 0.72], [-1.29, 0.71], [-1.2, 0.73], [-1.11, 0.72], [-1.01, 0.7], [-0.92, 0.73], [-0.83, 0.71], [-0.73, 0.72],
  [-1.42, 0.56], [-1.33, 0.55], [-1.24, 0.57], [-1.15, 0.56], [-1.06, 0.54], [-0.97, 0.57], [-0.87, 0.55], [-0.78, 0.56],
  [-1.38, 0.4], [-1.29, 0.39], [-1.2, 0.41], [-1.11, 0.4], [-1.01, 0.38], [-0.92, 0.41], [-0.83, 0.39], [-0.73, 0.4],
  [-1.35, 0.24], [-1.26, 0.23], [-1.17, 0.25], [-1.08, 0.24], [-0.99, 0.22], [-0.89, 0.25], [-0.8, 0.23],
  [-1.39, 0.08], [-1.3, 0.07], [-1.21, 0.09], [-1.12, 0.08], [-1.03, 0.06], [-0.94, 0.09], [-0.84, 0.07], [-0.75, 0.08],
  [-1.35, -0.08], [-1.26, -0.09], [-1.17, -0.07], [-1.08, -0.08], [-0.99, -0.1], [-0.89, -0.07], [-0.8, -0.09],
  [-1.31, -0.24], [-1.22, -0.25], [-1.13, -0.23], [-1.03, -0.24], [-0.94, -0.26], [-0.85, -0.23],
  [-1.34, -0.4], [-1.25, -0.41], [-1.16, -0.39], [-1.07, -0.4], [-0.98, -0.42], [-0.89, -0.39],
  [-1.29, -0.56], [-1.2, -0.57], [-1.11, -0.55], [-1.02, -0.56], [-0.93, -0.58],
  [-1.25, -0.72], [-1.16, -0.73], [-1.07, -0.71], [-0.98, -0.72],
  [-1.19, -0.88], [-1.1, -0.89], [-1.01, -0.87],
  // ragged rim around the core
  [-0.62, 0.9], [-0.6, 0.7], [-0.63, 0.5], [-0.6, 0.3], [-0.64, 0.1], [-0.62, -0.1], [-0.66, -0.3], [-0.7, -0.45],
  [-0.75, -0.6], [-0.68, 1.2], [-0.64, 1.05], [-0.66, 0.4], [-0.7, 0.2], [-0.7, -0.15], [-0.52, 0.5], [-0.55, 0.2],
  [-0.5, 0.65], [-1.52, 0.8], [-1.55, 0.5], [-1.5, 0.3], [-1.52, 0.15], [-1.48, -0.15], [-1.46, -0.3], [-1.45, -0.5],
  [-1.4, -0.65], [-1.38, -0.8], [-1.33, -0.95], [-1.28, -1.05], [-1.0, -1.05], [-0.9, -0.95], [-0.85, -0.85], [-1.36, 1.38],
  [-1.25, 1.5], [-1.12, 1.5], [-0.98, 1.48], [-0.88, 1.45], [-0.75, 1.35], [-1.45, 1.25], [-1.42, 1.4],
];

const panelPts = [giantPts.concat(giantDense), ukbPts.concat(ukbDense), bbjPts.concat(bbjDense)];
const panelFits = [fitGiant, fitUkb, fitBbj];

export default function App() {
  const ref = useRef<SVGSVGElement>(null);

  useEffect(() => {
    const W = 1042, H = 467;
    const lefts = [84, 416.7, 750];
    const pw = 303, top = 42, bottom = 396;
    const font = "'DejaVu Sans', sans-serif";

    const svg = d3.select(ref.current);
    svg.selectAll("*").remove();
    svg.attr("width", W).attr("height", H).style("font-family", font);
    svg.append("rect").attr("width", W).attr("height", H).attr("fill", "#fff");

    const y = d3.scaleLinear().domain(yDomain).range([bottom - top, 0]);

    titles.forEach((title, i) => {
      const x = d3.scaleLinear().domain(xDomains[i]).range([0, pw]);
      const g = svg.append("g").attr("transform", `translate(${lefts[i]},${top})`);

      g.append("clipPath").attr("id", `clip${i}`)
        .append("rect").attr("width", pw).attr("height", bottom - top);
      const plot = g.append("g").attr("clip-path", `url(#clip${i})`);

      // zero reference
      plot.append("line")
        .attr("x1", 0).attr("x2", pw)
        .attr("y1", y(0)).attr("y2", y(0))
        .attr("stroke", "#d8e0e8").attr("stroke-width", 2)
        .attr("stroke-dasharray", "10,5");

      // regression fit
      const line = d3.line<number[]>().x(d => x(d[0])).y(d => y(d[1]));
      plot.append("path")
        .attr("d", line(panelFits[i]))
        .attr("fill", "none").attr("stroke", "#cfcfcf").attr("stroke-width", 3);

      plot.selectAll("circle")
        .data(panelPts[i])
        .enter().append("circle")
        .attr("cx", d => x(d[0]))
        .attr("cy", d => y(d[1]))
        .attr("r", 4.2)
        .attr("fill", "#1f77b4");

      // frame
      g.append("rect").attr("width", pw).attr("height", bottom - top)
        .attr("fill", "none").attr("stroke", "#000").attr("stroke-width", 1.2);

      // x axis
      const xa = g.append("g").attr("transform", `translate(0,${bottom - top})`);
      xTicks[i].forEach(t => {
        xa.append("line").attr("x1", x(t)).attr("x2", x(t)).attr("y1", 0).attr("y2", 7)
          .attr("stroke", "#000").attr("stroke-width", 1.1);
        xa.append("text").attr("x", x(t)).attr("y", 33)
          .attr("text-anchor", "middle").attr("font-size", 20).attr("fill", "#000")
          .text(String(t).replace("-", "\u2212"));
      });
      xa.append("text").attr("x", pw / 2).attr("y", 59)
        .attr("text-anchor", "middle").attr("font-size", 21).attr("fill", "#000")
        .text("polygenic score");

      // y axis (labels only on the first panel)
      yTicks.forEach(t => {
        g.append("line").attr("x1", -7).attr("x2", 0).attr("y1", y(t)).attr("y2", y(t))
          .attr("stroke", "#000").attr("stroke-width", 1.1);
        if (i === 0) {
          g.append("text").attr("x", -14).attr("y", y(t)).attr("dy", "0.36em")
            .attr("text-anchor", "end").attr("font-size", 20).attr("fill", "#000")
            .text(String(t).replace("-", "\u2212"));
        }
      });
      if (i === 0) {
        g.append("text")
          .attr("transform", `translate(-59,${(bottom - top) / 2}) rotate(-90)`)
          .attr("text-anchor", "middle").attr("font-size", 20).attr("fill", "#000")
          .text("height");
      }

      g.append("text").attr("x", pw / 2).attr("y", -14)
        .attr("text-anchor", "middle").attr("font-size", 23.5).attr("fill", "#000")
        .text(title);
    });
  }, []);

  return (
    <div style={{ position: "absolute", left: 0, top: 0, width: 1042, height: 467, overflow: "hidden" }}>
      <svg ref={ref} />
    </div>
  );
}
